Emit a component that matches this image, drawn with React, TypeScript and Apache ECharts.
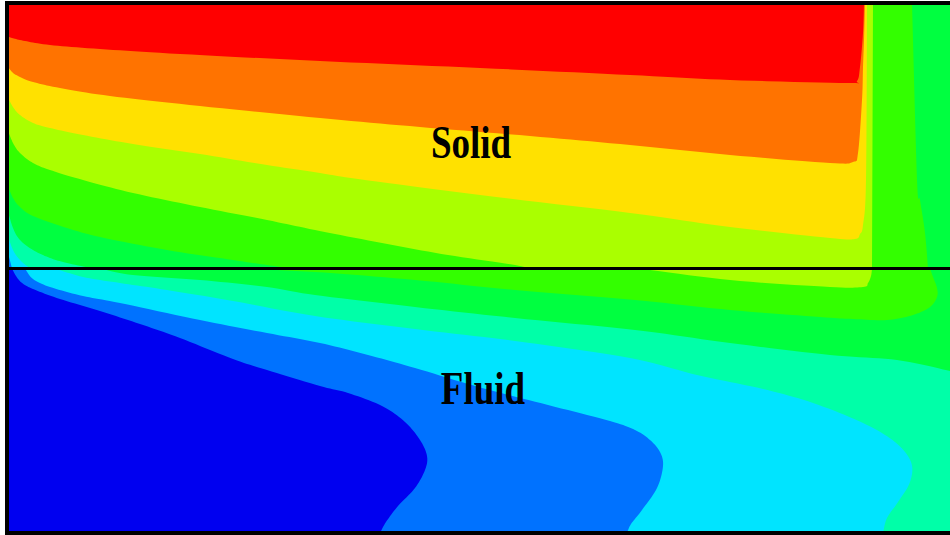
import React, { useEffect, useRef } from "react";
import * as echarts from "echarts";

// Domain extents (x along the plate, y depth from top; interface between solid and fluid)
const X_MIN = 7;
const X_MAX = 950;
const Y_TOP = 3;
const Y_IFACE = 268.5;
const Y_BOT = 533;

// Contour level colours (hot -> cold)
const levelColors = {
  red: "#FF0000",
  orange: "#FF7300",
  yellow: "#FFE100",
  yellowGreen: "#AAFF00",
  green1: "#33FF00",
  green2: "#00FF40",
  spring: "#00FFA8",
  cyan: "#00E4FF",
  azure: "#0072FF",
  blue: "#0000F0",
};

// ---- Solid region isotherms (from top edge, down, to left wall) ----
const solidRed: number[][] = [[864, 3], [863, 33], [860, 67], [857, 81], [847, 83], [730, 80], [630, 75], [480, 68], [320, 61], [180, 54], [100, 49], [50, 45], [25, 41], [12, 38], [7, 36]];
const solidOrange: number[][] = [[865, 3], [864, 40], [863, 67], [862, 100], [858, 153], [853, 162], [830, 163], [730, 155], [630, 145], [530, 136], [420, 127], [320, 118], [200, 106], [110, 96], [60, 88], [33, 82], [20, 77], [12, 72], [7, 65]];
const solidYellow: number[][] = [[867, 3], [866, 180], [863, 225], [860, 234], [855, 239], [830, 238], [730, 227], [630, 213], [480, 195], [358, 179], [320, 173], [267, 165], [200, 154], [133, 144], [83, 135], [50, 128], [33, 123], [20, 115], [13, 107], [7, 96]];
const solidYellowGreen: number[][] = [[873, 3], [872, 268.5], [528, 268.5], [515, 265], [448, 255], [382, 243], [315, 230], [267, 220], [200, 207], [133, 193], [83, 180], [50, 170], [33, 163], [20, 153], [13, 143], [7, 128]];
const solidGreen1: number[][] = [[912, 3], [917, 180], [920, 200], [925, 233], [928, 268.5], [293, 268.5], [267, 265], [233, 260], [167, 250], [100, 237], [67, 228], [33, 216], [20, 207], [13, 198], [7, 184]];
const solidGreen2: number[][] = [[950, 3], [950, 268.5], [93, 268.5], [67, 263], [50, 258], [33, 250], [20, 240], [13, 228], [7, 208]];
const solidSpring: number[][] = [[950, 3], [950, 268.5], [30, 268.5], [20, 260], [13, 250], [7, 233]];
const solidCyan: number[][] = [[950, 3], [950, 268.5], [12, 268.5], [9, 257], [7, 252]];

// ---- Fluid region isotherms (from interface, outward) ----
const fluidAzure: number[][] = [[12, 268.5], [16, 276], [22, 283], [33, 289], [60, 299], [100, 311], [140, 324], [180, 338], [233, 359], [267, 370], [320, 386], [348, 393], [382, 406], [405, 422], [420, 440], [427, 456], [425, 470], [415, 488], [398, 506], [386, 522], [380, 533]];
const fluidCyan: number[][] = [[25, 268.5], [33, 279], [50, 287], [83, 296], [120, 303], [200, 320], [267, 333], [320, 343], [368, 355], [415, 368], [482, 388], [548, 405], [610, 421], [635, 430], [650, 440], [660, 452], [663, 466], [657, 488], [642, 510], [631, 524], [627, 533]];
const fluidSpring: number[][] = [[55, 268.5], [83, 277], [120, 283], [167, 290], [233, 301], [315, 316], [415, 329], [515, 341], [630, 358], [697, 375], [763, 389], [813, 403], [863, 423], [895, 442], [911, 462], [910, 482], [898, 502], [887, 518], [883, 533]];
const fluidGreen2: number[][] = [[100, 268.5], [133, 275], [200, 280], [267, 287], [315, 295], [415, 307], [515, 318], [635, 330], [730, 343], [830, 355], [897, 360], [950, 371]];
const fluidGreen1: number[][] = [[233, 268.5], [315, 272], [415, 280], [515, 290], [635, 300], [730, 310], [820, 317], [853, 319], [887, 320], [913, 315], [930, 307], [937, 297], [937, 288], [933, 277], [930, 268.5]];
const fluidYellowGreen: number[][] = [[640, 268.5], [730, 280], [830, 287], [863, 287], [868, 283], [871, 276], [872, 268.5]];

const labels = [
  { text: "Solid", x: 471, y: 142.5 },
  { text: "Fluid", x: 483, y: 389 },
];

type Shape = { kind: "poly" | "frame" | "line"; pts: number[][]; color: string; width?: number };

const onEdge = (p: number[]) =>
  p[0] === X_MIN || p[0] === X_MAX || p[1] === Y_TOP || p[1] === Y_IFACE || p[1] === Y_BOT;

// Catmull-Rom rendering of an isotherm through its read points (corners on domain edges kept sharp)
function smoothed(pts: number[][], steps = 10): number[][] {
  const out: number[][] = [];
  for (let i = 0; i < pts.length - 1; i++) {
    const p1 = pts[i];
    const p2 = pts[i + 1];
    if (onEdge(p1) && onEdge(p2) && (p1[0] === p2[0] || p1[1] === p2[1])) {
      out.push(p1);
      continue;
    }
    const p0 = i > 0 && !onEdge(p1) ? pts[i - 1] : p1;
    const p3 = i + 2 < pts.length && !onEdge(p2) ? pts[i + 2] : p2;
    for (let s = 0; s < steps; s++) {
      const t = s / steps;
      const t2 = t * t;
      const t3 = t2 * t;
      const f = (a: number, b: number, c: number, d: number) =>
        0.5 * (2 * b + (-a + c) * t + (2 * a - 5 * b + 4 * c - d) * t2 + (-a + 3 * b - 3 * c + d) * t3);
      out.push([f(p0[0], p1[0], p2[0], p3[0]), f(p0[1], p1[1], p2[1], p3[1])]);
    }
  }
  out.push(pts[pts.length - 1]);
  return out;
}

function buildShapes(): Shape[] {
  const solidPoly = (b: number[][]) => [[X_MIN, Y_TOP], ...smoothed(b)];
  const fluidBottom = (b: number[][]) => [...smoothed(b), [X_MAX, Y_BOT], [X_MAX, Y_IFACE]];
  const fluidRight = (b: number[][]) => [...smoothed(b), [X_MAX, Y_IFACE]];
  const shapes: Shape[] = [];
  const add = (pts: number[][], color: string) => shapes.push({ kind: "poly", pts, color });
  // solid
  add([[X_MIN, Y_TOP], [X_MAX, Y_TOP], [X_MAX, Y_IFACE], [X_MIN, Y_IFACE]], levelColors.azure);
  add(solidPoly(solidCyan), levelColors.cyan);
  add(solidPoly(solidSpring), levelColors.spring);
  add(solidPoly(solidGreen2), levelColors.green2);
  add(solidPoly(solidGreen1), levelColors.green1);
  add(solidPoly(solidYellowGreen), levelColors.yellowGreen);
  add(solidPoly(solidYellow), levelColors.yellow);
  add(solidPoly(solidOrange), levelColors.orange);
  add(solidPoly(solidRed), levelColors.red);
  // fluid
  add([[X_MIN, Y_IFACE], [X_MAX, Y_IFACE], [X_MAX, Y_BOT], [X_MIN, Y_BOT]], levelColors.blue);
  add(fluidBottom(fluidAzure), levelColors.azure);
  add(fluidBottom(fluidCyan), levelColors.cyan);
  add(fluidBottom(fluidSpring), levelColors.spring);
  add(fluidRight(fluidGreen2), levelColors.green2);
  add(fluidRight(fluidGreen1), levelColors.green1);
  add(smoothed(fluidYellowGreen), levelColors.yellowGreen);
  // interface + frame
  shapes.push({ kind: "line", pts: [[X_MIN, Y_IFACE], [X_MAX, Y_IFACE]], color: "#000", width: 3 });
  shapes.push({ kind: "frame", pts: [[X_MAX + 5, Y_TOP], [X_MIN, Y_TOP], [X_MIN, Y_BOT], [X_MAX + 5, Y_BOT]], color: "#000", width: 4 });
  return shapes;
}

export default function App() {
  const ref = useRef<HTMLDivElement>(null);
  useEffect(() => {
    if (!ref.current) return;
    const chart = echarts.init(ref.current, undefined, { renderer: "svg" });
    const shapes = buildShapes();
    chart.setOption({
      animation: false,
      backgroundColor: "#ffffff",
      grid: { left: X_MIN, top: Y_TOP, width: X_MAX - X_MIN, height: Y_BOT - Y_TOP, show: false },
      xAxis: {
        type: "value", min: X_MIN, max: X_MAX,
        axisLine: { show: false }, axisTick: { show: false }, axisLabel: { show: false }, splitLine: { show: false },
      },
      yAxis: {
        type: "value", min: Y_TOP, max: Y_BOT, inverse: true,
        axisLine: { show: false }, axisTick: { show: false }, axisLabel: { show: false }, splitLine: { show: false },
      },
      series: [
        {
          type: "custom",
          coordinateSystem: "cartesian2d",
          silent: true,
          data: shapes.map((_, i) => [X_MIN + 1, Y_TOP + 1, i]),
          renderItem: (params: any, api: any) => {
            const s = shapes[params.dataIndex];
            const points = s.pts.map((p) => api.coord(p));
            if (s.kind === "poly") {
              return { type: "polygon", shape: { points }, style: { fill: s.color, stroke: null } };
            }
            return {
              type: "polyline",
              shape: { points },
              style: { stroke: s.color, lineWidth: s.width, fill: null, lineJoin: "miter", lineCap: "butt" },
            };
          },
        },
      ],
      graphic: labels.map((l) => ({
        type: "text",
        x: l.x,
        y: l.y,
        scaleY: 1.25,
        z: 100,
        style: {
          text: l.text,
          font: 'bold 37px "Liberation Serif", "Times New Roman", serif',
          fill: "#000",
          textAlign: "center",
          textVerticalAlign: "middle",
          align: "center",
          verticalAlign: "middle",
        },
      })),
    });
    return () => chart.dispose();
  }, []);
  return <div ref={ref} style={{ position: "absolute", left: 0, top: 0, width: 950, height: 535 }} />;
}
